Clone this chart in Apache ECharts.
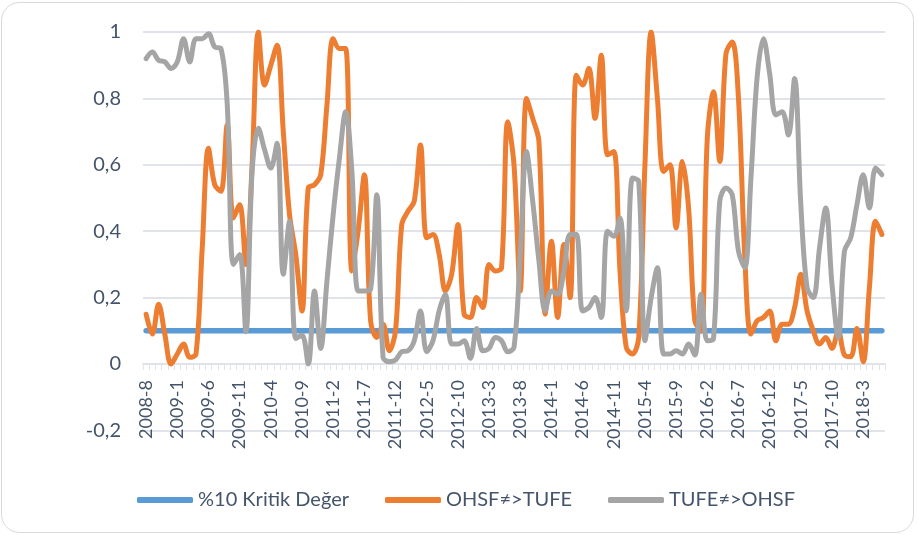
<!DOCTYPE html>
<html>
<head>
<meta charset="utf-8">
<script src="https://cdn.jsdelivr.net/npm/echarts@6/dist/echarts.min.js"></script>
<style>
html,body{margin:0;padding:0;background:#fff;}
#chart{width:918px;height:535px;}
</style>
</head>
<body>
<div id="chart"></div>
<script>
const categories = [
  "2008-8","2008-9","2008-10","2008-11","2008-12",
  "2009-1","2009-2","2009-3","2009-4","2009-5","2009-6","2009-7","2009-8","2009-9","2009-10","2009-11","2009-12",
  "2010-1","2010-2","2010-3","2010-4","2010-5","2010-6","2010-7","2010-8","2010-9","2010-10","2010-11","2010-12",
  "2011-1","2011-2","2011-3","2011-4","2011-5","2011-6","2011-7","2011-8","2011-9","2011-10","2011-11","2011-12",
  "2012-1","2012-2","2012-3","2012-4","2012-5","2012-6","2012-7","2012-8","2012-9","2012-10","2012-11","2012-12",
  "2013-1","2013-2","2013-3","2013-4","2013-5","2013-6","2013-7","2013-8","2013-9","2013-10","2013-11","2013-12",
  "2014-1","2014-2","2014-3","2014-4","2014-5","2014-6","2014-7","2014-8","2014-9","2014-10","2014-11","2014-12",
  "2015-1","2015-2","2015-3","2015-4","2015-5","2015-6","2015-7","2015-8","2015-9","2015-10","2015-11","2015-12",
  "2016-1","2016-2","2016-3","2016-4","2016-5","2016-6","2016-7","2016-8","2016-9","2016-10","2016-11","2016-12",
  "2017-1","2017-2","2017-3","2017-4","2017-5","2017-6","2017-7","2017-8","2017-9","2017-10","2017-11","2017-12",
  "2018-1","2018-2","2018-3","2018-4","2018-5","2018-6"
];

const seriesNames = ["%10 Kritik Değer", "OHSF≠>TUFE", "TUFE≠>OHSF"];

const kritikDeger = [
  0.1,0.1,0.1,0.1,0.1,0.1,0.1,0.1,0.1,0.1,
  0.1,0.1,0.1,0.1,0.1,0.1,0.1,0.1,0.1,0.1,
  0.1,0.1,0.1,0.1,0.1,0.1,0.1,0.1,0.1,0.1,
  0.1,0.1,0.1,0.1,0.1,0.1,0.1,0.1,0.1,0.1,
  0.1,0.1,0.1,0.1,0.1,0.1,0.1,0.1,0.1,0.1,
  0.1,0.1,0.1,0.1,0.1,0.1,0.1,0.1,0.1,0.1,
  0.1,0.1,0.1,0.1,0.1,0.1,0.1,0.1,0.1,0.1,
  0.1,0.1,0.1,0.1,0.1,0.1,0.1,0.1,0.1,0.1,
  0.1,0.1,0.1,0.1,0.1,0.1,0.1,0.1,0.1,0.1,
  0.1,0.1,0.1,0.1,0.1,0.1,0.1,0.1,0.1,0.1,
  0.1,0.1,0.1,0.1,0.1,0.1,0.1,0.1,0.1,0.1,
  0.1,0.1,0.1,0.1,0.1,0.1,0.1,0.1,0.1
];

const ohsfTufe = [
  0.15,0.09,0.18,0.09,0.0,0.03,0.06,0.02,0.03,0.35,
  0.65,0.54,0.52,0.72,0.44,0.48,0.30,0.60,1.0,0.84,
  0.90,0.96,0.70,0.45,0.33,0.16,0.53,0.54,0.57,0.78,
  0.98,0.95,0.95,0.28,0.40,0.57,0.13,0.08,0.12,0.04,
  0.10,0.42,0.46,0.49,0.66,0.38,0.39,0.33,0.22,0.27,
  0.42,0.15,0.14,0.20,0.17,0.30,0.28,0.29,0.73,0.60,
  0.22,0.80,0.74,0.67,0.15,0.37,0.14,0.36,0.20,0.87,
  0.84,0.89,0.74,0.93,0.63,0.64,0.28,0.05,0.03,0.08,
  0.60,1.0,0.80,0.58,0.60,0.41,0.61,0.47,0.13,0.10,
  0.68,0.82,0.61,0.935,0.97,0.80,0.33,0.09,0.13,0.14,
  0.16,0.07,0.12,0.12,0.17,0.27,0.16,0.10,0.06,0.08,
  0.047,0.10,0.027,0.022,0.107,0.007,0.23,0.43,0.39
];

const tufeOhsf = [
  0.92,0.94,0.915,0.91,0.89,0.91,0.98,0.91,0.98,0.98,
  0.995,0.955,0.95,0.785,0.30,0.33,0.097,0.58,0.71,0.645,
  0.59,0.665,0.27,0.43,0.077,0.087,0.0,0.22,0.047,0.25,
  0.45,0.62,0.76,0.58,0.22,0.22,0.225,0.51,0.02,0.007,
  0.012,0.037,0.04,0.07,0.16,0.037,0.07,0.16,0.21,0.06,
  0.06,0.07,0.017,0.107,0.04,0.047,0.08,0.07,0.037,0.05,
  0.33,0.64,0.49,0.31,0.16,0.22,0.21,0.28,0.39,0.39,
  0.16,0.17,0.20,0.14,0.40,0.385,0.44,0.16,0.56,0.55,
  0.07,0.20,0.29,0.03,0.03,0.04,0.03,0.06,0.027,0.21,
  0.07,0.077,0.49,0.53,0.51,0.34,0.29,0.56,0.865,0.98,
  0.875,0.75,0.76,0.69,0.86,0.48,0.23,0.20,0.35,0.47,
  0.24,0.08,0.34,0.38,0.48,0.57,0.47,0.59,0.57
];

const yTicks = { min: -0.2, max: 1, step: 0.2 };

const textColor = '#44546A';
const fontFam = 'Lato, "Open Sans", sans-serif';
const gridColor = '#E0E4EA';

const gridTop = 32, gridBottomPx = 430.4;
const zeroOffset = -((gridBottomPx - gridTop) * (0 - yTicks.min) / (yTicks.max - yTicks.min));

const chart = echarts.init(document.getElementById('chart'), null, { renderer: 'canvas' });

const lineSeries = (name, data, color, width) => ({
  name: name,
  type: 'line',
  data: data,
  smooth: 0.35,
  showSymbol: false,
  symbol: 'none',
  lineStyle: { color: color, width: width, cap: 'round', join: 'round' },
  itemStyle: { color: color },
  emphasis: { disabled: true },
  animation: false
});

chart.setOption({
  backgroundColor: '#ffffff',
  animation: false,
  graphic: [{
    type: 'rect',
    shape: { x: 1.5, y: 2.5, width: 912, height: 530, r: 18 },
    style: { fill: 'none', stroke: '#D9D9D9', lineWidth: 1 },
    silent: true,
    z: -10
  }],
  grid: { left: 143, right: 33, top: gridTop, bottom: 535 - gridBottomPx, containLabel: false },
  legend: {
    data: seriesNames,
    left: 132,
    top: 485,
    itemWidth: 56,
    itemHeight: 6,
    itemGap: 36,
    icon: 'roundRect',
    textStyle: { color: textColor, fontSize: 20, fontFamily: fontFam },
    selectedMode: false
  },
  xAxis: {
    type: 'category',
    data: categories,
    boundaryGap: true,
    position: 'bottom',
    offset: zeroOffset,
    axisLine: { onZero: false, lineStyle: { color: gridColor, width: 2 } },
    axisTick: { show: true, interval: 0, length: 6, lineStyle: { color: gridColor, width: 1 } },
    axisLabel: {
      interval: 4,
      rotate: 90,
      margin: 16,
      color: textColor,
      fontSize: 18,
      fontFamily: fontFam
    },
    splitLine: { show: false }
  },
  yAxis: {
    type: 'value',
    min: yTicks.min,
    max: yTicks.max,
    interval: yTicks.step,
    axisLine: { show: false },
    axisTick: { show: false },
    axisLabel: {
      margin: 22,
      color: textColor,
      fontSize: 20,
      fontFamily: fontFam,
      formatter: v => {
        const r = Math.round(v * 10) / 10;
        return String(r).replace('.', ',');
      }
    },
    splitLine: { show: true, lineStyle: { color: gridColor, width: 2 } }
  },
  series: [
    lineSeries(seriesNames[0], kritikDeger, '#5B9BD5', 5.5),
    lineSeries(seriesNames[1], ohsfTufe, '#ED7D31', 5),
    lineSeries(seriesNames[2], tufeOhsf, '#A5A5A5', 5)
  ]
});
</script>
</body>
</html>
